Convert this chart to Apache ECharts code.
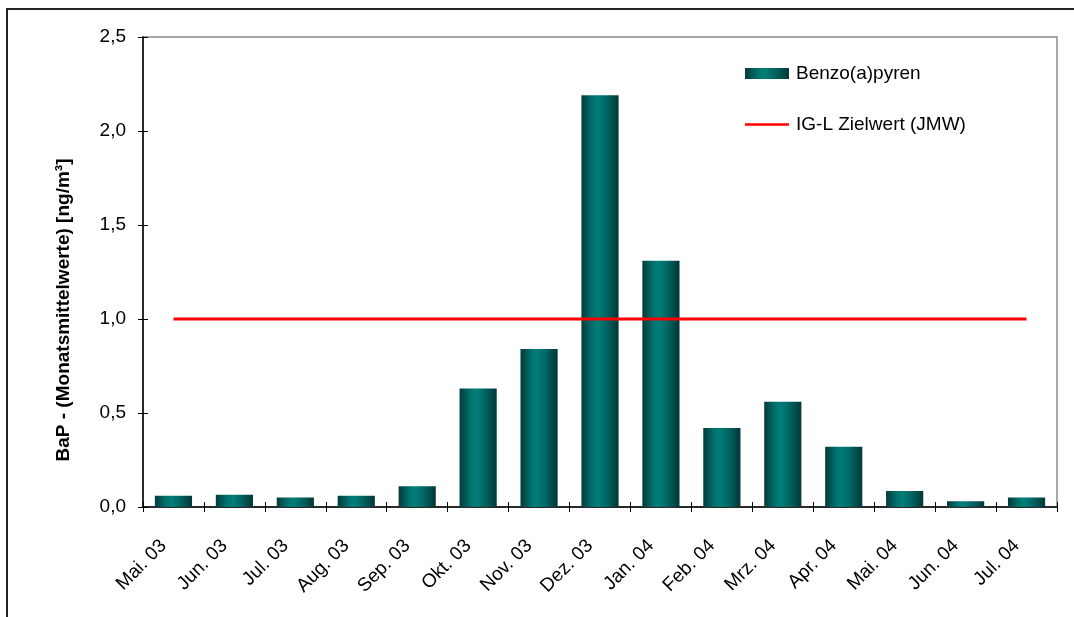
<!DOCTYPE html>
<html>
<head>
<meta charset="utf-8">
<script src="https://cdn.jsdelivr.net/npm/echarts@6/dist/echarts.min.js"></script>
<style>
  html, body { margin: 0; padding: 0; background: #fff; }
  #chart { width: 1074px; height: 617px; }
</style>
</head>
<body>
<div id="chart"></div>
<script>
// Monthly means of benzo(a)pyrene, ng/m³
const months = ['Mai. 03', 'Jun. 03', 'Jul. 03', 'Aug. 03', 'Sep. 03', 'Okt. 03', 'Nov. 03',
                'Dez. 03', 'Jan. 04', 'Feb. 04', 'Mrz. 04', 'Apr. 04', 'Mai. 04', 'Jun. 04', 'Jul. 04'];
const bapValues = [0.06, 0.065, 0.05, 0.06, 0.11, 0.63, 0.84, 2.19, 1.31, 0.42, 0.56, 0.32, 0.085, 0.03, 0.05];
const targetValue = 1.0;   // IG-L annual target value
const targetLine = months.map(() => targetValue);
const yTicks = [0, 0.5, 1.0, 1.5, 2.0, 2.5];
const yTitle = 'BaP - (Monatsmittelwerte) [ng/m³]';

const font = '"Liberation Sans", Arial, sans-serif';

const barGradient = new echarts.graphic.LinearGradient(0, 0, 1, 0, [
  { offset: 0, color: '#053a3a' },
  { offset: 0.3, color: '#00726e' },
  { offset: 0.45, color: '#007e79' },
  { offset: 0.7, color: '#01625e' },
  { offset: 1, color: '#043636' }
]);

// thin horizontal stroke centred in the legend item box
const lineIcon = 'path://M0,0L0.01,0L0.01,0.01Z M0,4.2L44,4.2L44,6.8L0,6.8Z M0,11L0.01,11L0.01,10.99Z';

const chart = echarts.init(document.getElementById('chart'), null, { renderer: 'canvas' });

const yAxisBase = {
  type: 'value',
  min: yTicks[0],
  max: yTicks[yTicks.length - 1],
  interval: 0.5,
  splitLine: { show: false }
};

chart.setOption({
  animation: false,
  backgroundColor: '#fff',
  graphic: [{
    type: 'rect',
    shape: { x: 7, y: 9, width: 1100, height: 700 },
    style: { fill: 'none', stroke: '#222', lineWidth: 2 },
    silent: true,
    z: -1
  }, {
    type: 'text',
    x: 64, y: 310,
    rotation: Math.PI / 2,
    style: {
      text: yTitle,
      font: 'bold 19px ' + font,
      fill: '#000',
      align: 'center',
      verticalAlign: 'middle'
    },
    silent: true
  }],
  grid: {
    left: 143, right: 17, top: 37, bottom: 110,
    show: true, borderColor: '#8a8a8a', borderWidth: 1.5
  },
  legend: {
    orient: 'vertical',
    left: 740, top: 59,
    itemWidth: 44, itemHeight: 11,
    itemGap: 32,
    textStyle: { fontFamily: font, fontSize: 19, color: '#000', padding: [0, 0, 0, 2] },
    data: [
      { name: 'Benzo(a)pyren', icon: 'rect' },
      { name: 'IG-L Zielwert (JMW)', icon: lineIcon }
    ]
  },
  xAxis: [{
    type: 'category',
    data: months,
    boundaryGap: true,
    axisLine: { lineStyle: { color: '#000', width: 1.5 } },
    axisTick: { show: true, length: 5, lineStyle: { color: '#000' } },
    axisLabel: {
      rotate: 45, margin: 26, interval: 0,
      padding: [0, 14, 0, 0],
      fontFamily: font, fontSize: 19, color: '#000'
    }
  }, {
    type: 'category',
    data: months,
    position: 'bottom',
    axisLine: { show: false },
    axisTick: { show: true, inside: true, length: 5, lineStyle: { color: '#000' } },
    axisLabel: { show: false }
  }],
  yAxis: [Object.assign({}, yAxisBase, {
    axisLine: { show: true, lineStyle: { color: '#000', width: 1.5 } },
    axisTick: { show: true, length: 5, lineStyle: { color: '#000' } },
    axisLabel: {
      margin: 17, fontFamily: font, fontSize: 19, color: '#000',
      formatter: v => v.toFixed(1).replace('.', ',')
    }
  }), Object.assign({}, yAxisBase, {
    position: 'left',
    axisLine: { show: false },
    axisTick: { show: true, inside: true, length: 5, lineStyle: { color: '#000' } },
    axisLabel: { show: false }
  })],
  series: [{
    name: 'Benzo(a)pyren',
    type: 'bar',
    data: bapValues,
    barWidth: '61%',
    itemStyle: { color: barGradient },
    z: 2
  }, {
    name: 'IG-L Zielwert (JMW)',
    type: 'line',
    data: targetLine,
    symbol: 'none',
    lineStyle: { color: '#ff0000', width: 3 },
    itemStyle: { color: '#ff0000' },
    z: 3
  }]
});
</script>
</body>
</html>
